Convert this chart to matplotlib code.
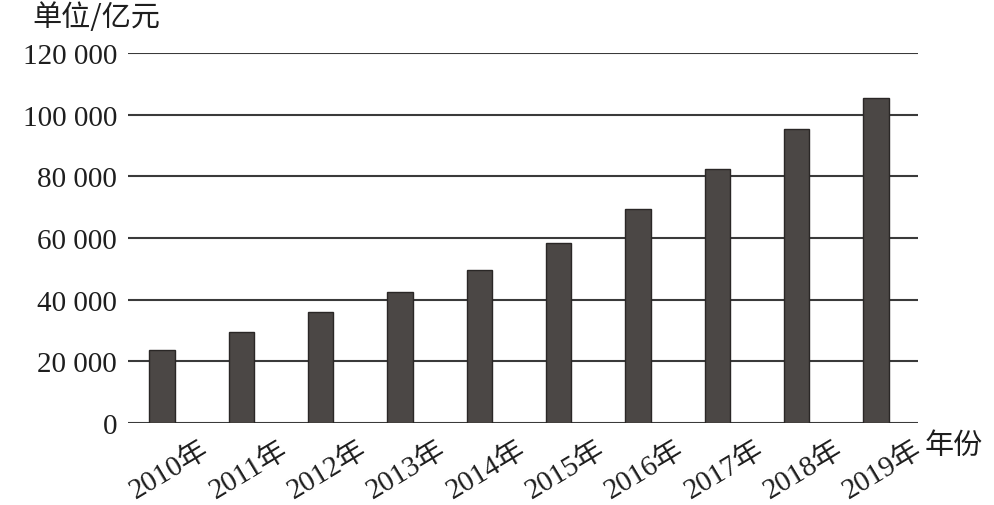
import matplotlib.pyplot as plt

years = ["2010年", "2011年", "2012年", "2013年", "2014年",
         "2015年", "2016年", "2017年", "2018年", "2019年"]
values = [23800, 29600, 35900, 42400, 49700, 58400, 69400, 82400, 95400, 105400]
y_ticks = [0, 20000, 40000, 60000, 80000, 100000, 120000]
y_labels = ["0", "20 000", "40 000", "60 000", "80 000", "100 000", "120 000"]

serif = ["Liberation Serif", "Noto Sans CJK SC"]
cjk = ["Noto Sans CJK SC", "DejaVu Sans"]

fig = plt.figure(figsize=(9.94, 5.06), dpi=100)
ax = fig.add_axes([0.1288, 0.162, 0.7947, 0.7313])

x = list(range(len(years)))
ax.bar(x, values, width=0.32, color="#4b4745", edgecolor="#2a2726",
       linewidth=1.0, zorder=3)

# horizontal rules at each tick
for t in y_ticks:
    ax.axhline(t, color="#3a3a3a", linewidth=1.5, zorder=2)

ax.set_xlim(-0.43, 9.53)
ax.set_ylim(0, 120000)
for s in ax.spines.values():
    s.set_visible(False)

ax.set_yticks(y_ticks)
ax.set_yticklabels(y_labels, fontsize=21, family=serif, color="#1e1e1e")
ax.tick_params(axis="y", length=0, pad=8)
ax.set_xticks([])

for i, lab in enumerate(years):
    ax.text(i + 0.47, -0.035, lab, transform=ax.get_xaxis_transform(),
            rotation=31, rotation_mode="anchor", ha="right", va="top",
            fontsize=21, family=serif, color="#1e1e1e")

fig.text(0.930, 0.118, "年份", fontsize=21, family=cjk, color="#1e1e1e",
         ha="left", va="center")
fig.text(0.033, 0.965, "单位/亿元", fontsize=21, family=cjk, color="#1e1e1e",
         ha="left", va="center")

fig.savefig("out.png", dpi=100)
